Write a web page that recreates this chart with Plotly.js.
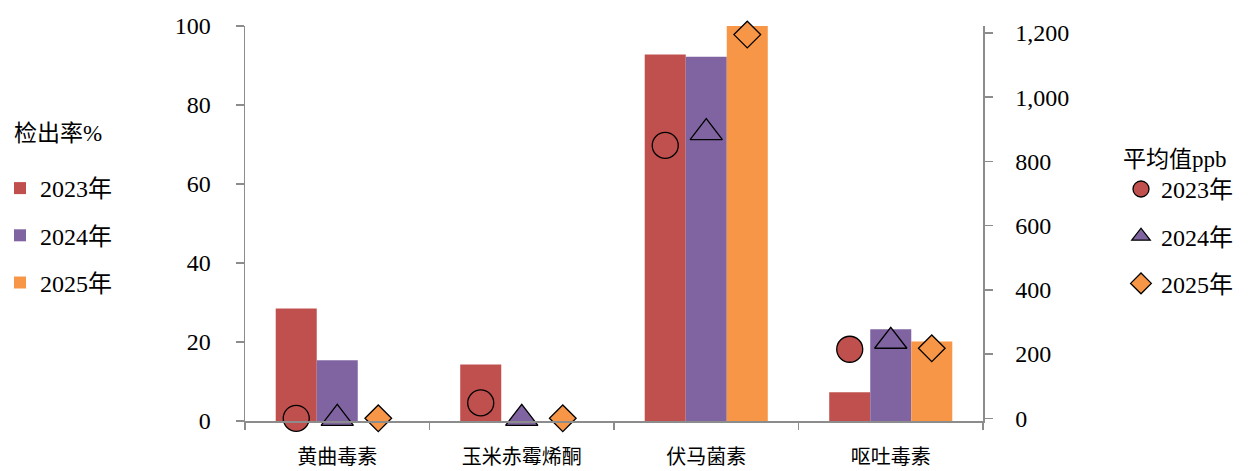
<!DOCTYPE html>
<html>
<head>
<meta charset="utf-8">
<script src="https://cdn.plot.ly/plotly-3.0.1.min.js"></script>
<style>html,body{margin:0;padding:0;background:#fff;}#chart{width:1248px;height:471px;}</style>
</head>
<body>
<div id="chart"></div>
<script>
const categories = ['黄曲毒素', '玉米赤霉烯酮', '伏马菌素', '呕吐毒素'];
const years = ['2023年', '2024年', '2025年'];
const rate2023 = [28.5, 14.3, 92.8, 7.3];
const rate2024 = [15.4, 0, 92.2, 23.2];
const rate2025 = [0, 0, 100, 20.1];
const avg2023 = [0, 48, 850, 215];
const avg2024 = [0, 0, 890, 240];
const avg2025 = [0, 0, 1195, 218];
const rateTitle = '检出率%';
const avgTitle = '平均值ppb';

const colors = ['#C0504D', '#8064A2', '#F79646'];
const symbols = ['circle', 'triangle-up', 'diamond'];
const sizes = [26, 28, 20.5];
const FONT = '"Liberation Serif", "Times New Roman", "Noto Sans CJK SC", serif';

const rates = [rate2023, rate2024, rate2025];
const avgs = [avg2023, avg2024, avg2025];

const traces = [];
rates.forEach((vals, i) => {
  traces.push({
    type: 'bar', x: categories, y: vals, name: years[i],
    marker: {color: colors[i], line: {width: 0}},
    offsetgroup: 'g' + i, legendgroup: 'b' + i, legend: 'legend',
    yaxis: 'y', hoverinfo: 'x+y'
  });
});
avgs.forEach((vals, i) => {
  traces.push({
    type: 'scatter', mode: 'markers', x: categories, y: vals, name: years[i],
    marker: {color: colors[i], symbol: symbols[i], size: sizes[i], line: {color: '#000', width: 1.3}},
    offsetgroup: 'g' + i, legendgroup: 's' + i, legend: 'legend2',
    yaxis: 'y2', cliponaxis: false
  });
});

const layout = {
  width: 1248, height: 471,
  margin: {l: 245, r: 265, t: 26, b: 50, pad: 0},
  paper_bgcolor: '#fff', plot_bgcolor: '#fff',
  font: {family: FONT, size: 24, color: '#000'},
  barmode: 'group', bargap: 0.333, bargroupgap: 0,
  scattermode: 'group', scattergap: 0.333,
  xaxis: {
    type: 'category', showline: true, linecolor: '#8c8c8c', linewidth: 1.5,
    ticks: 'outside', tickson: 'boundaries', ticklen: 7, tickcolor: '#8c8c8c', tickwidth: 1.5,
    tickfont: {size: 20, family: FONT}, ticklabelstandoff: 17, showgrid: false, zeroline: false
  },
  yaxis: {
    range: [0, 100], dtick: 20, showline: true, linecolor: '#8c8c8c', linewidth: 1.5,
    ticks: 'outside', ticklen: 8, tickcolor: '#8c8c8c', tickwidth: 1.5,
    tickfont: {size: 24, family: FONT}, ticklabelstandoff: 20, showgrid: false, zeroline: false
  },
  yaxis2: {
    overlaying: 'y', side: 'right', range: [-8.4, 1221.8], tick0: 0, dtick: 200,
    tickformat: ',d', showline: true, linecolor: '#8c8c8c', linewidth: 1.5,
    ticks: 'outside', ticklen: 8, tickcolor: '#8c8c8c', tickwidth: 1.5,
    tickfont: {size: 24, family: FONT}, ticklabelstandoff: 18, showgrid: false, zeroline: false
  },
  legend: {
    xref: 'container', yref: 'container', x: 0, y: 1 - 166 / 471, xanchor: 'left', yanchor: 'top',
    traceorder: 'grouped', tracegroupgap: 13, font: {size: 24, family: FONT},
    bgcolor: 'rgba(0,0,0,0)', itemwidth: 30
  },
  legend2: {
    title: {text: avgTitle, font: {size: 23, family: FONT}},
    xref: 'container', yref: 'container', x: 1121 / 1248, y: 1 - 137 / 471, xanchor: 'left', yanchor: 'top',
    traceorder: 'grouped', tracegroupgap: 13, font: {size: 24, family: FONT},
    bgcolor: 'rgba(0,0,0,0)', itemwidth: 30
  },
  annotations: [{
    text: rateTitle, xref: 'paper', yref: 'paper',
    x: (12 - 245) / 738, y: (421 - 133) / 395, xanchor: 'left', yanchor: 'middle',
    showarrow: false, font: {size: 23, family: FONT}
  }],
  showlegend: true
};

Plotly.newPlot('chart', traces, layout, {displayModeBar: false, staticPlot: true});
</script>
</body>
</html>
